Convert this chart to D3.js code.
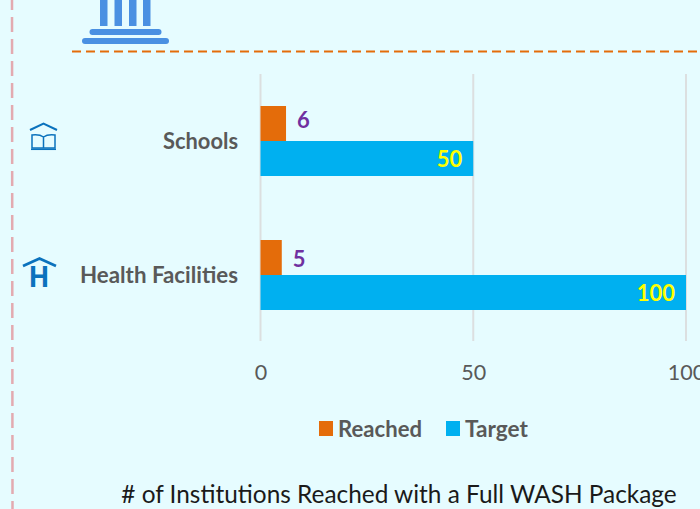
<!DOCTYPE html>
<html><head><meta charset="utf-8">
<script src="https://cdn.jsdelivr.net/npm/d3@7/dist/d3.min.js"></script>
<style>
html,body{margin:0;padding:0;background:#e6fcff;overflow:hidden}
text{font-family:Lato,"Open Sans",sans-serif}
</style></head><body><svg id="c" width="700" height="509"></svg>
<script>
const categories=["Schools","Health Facilities"];
const reached=[6,5];
const target=[50,100];
const xTicks=[0,50,100];
const seriesNames=["Reached","Target"];
const colors={Reached:"#e46c0a",Target:"#00b0f0"};
const title="# of Institutions Reached with a Full WASH Package";

const svg=d3.select("#c");
svg.append("rect").attr("width",700).attr("height",509).attr("fill","#e6fcff");
svg.append("line").attr("x1",12).attr("x2",12.5).attr("y1",-5).attr("y2",509)
 .attr("stroke","#e3aab0").attr("stroke-width",2.5).attr("stroke-dasharray","15 7");
svg.append("line").attr("x1",72).attr("x2",700).attr("y1",51.5).attr("y2",51.5)
 .attr("stroke","#e46c0a").attr("stroke-width",2).attr("stroke-dasharray","9 5");

// institution icon
const blue="#4a90e2";
const ic=svg.append("g").attr("fill",blue);
[100,114.5,129,143].forEach(x=>ic.append("rect").attr("x",x).attr("y",-2).attr("width",7.5).attr("height",28));
ic.append("rect").attr("x",89.5).attr("y",29).attr("width",72).attr("height",6).attr("rx",3);
ic.append("rect").attr("x",82).attr("y",38).attr("width",87).attr("height",6).attr("rx",3);

// book icon
const ib="#0b72bd";
const bk=svg.append("g").attr("fill","none").attr("stroke",ib);
bk.append("path").attr("d","M30 130 L43.5 123.5 L57 130").attr("stroke-width",2);
bk.append("path").attr("d","M43.5 137 C40 134.5 36 134.5 32 135 V148 H43.5 V137 C47 134.5 51 134.5 55 135 V148 H43.5").attr("stroke-width",1.5);
bk.append("path").attr("d","M31 149.3 H56").attr("stroke-width",1.5);

// H icon
const h=svg.append("g");
h.append("path").attr("d","M23 266 L39.5 258.5 L56 266").attr("fill","none").attr("stroke",ib).attr("stroke-width",2.8);
h.append("text").attr("x",39).attr("y",287).attr("text-anchor","middle").attr("font-size",28).attr("font-weight",700).attr("fill",ib).attr("textLength",21).attr("lengthAdjust","spacingAndGlyphs").style("font-family","'Open Sans',sans-serif").text("H");

const x=d3.scaleLinear().domain([0,100]).range([260.5,686]);
const y=d3.scaleBand().domain(categories).range([74,342]);
const barH=35;
const reachedLabelDrop=[-13,-8];

const ax=svg.append("g").attr("transform","translate(0,341)");
xTicks.forEach(t=>svg.append("line").attr("x1",x(t)).attr("x2",x(t)).attr("y1",74).attr("y2",341).attr("stroke","#dcdfe0").attr("stroke-width",2));
ax.call(d3.axisBottom(x).tickValues(xTicks).tickSize(0).tickFormat(d=>d));
ax.select(".domain").remove();
ax.selectAll("text").attr("y",39).attr("dy",0).attr("font-size",21.5).attr("fill","#595959").style("font-family","Lato,sans-serif");

const rows=svg.append("g");
categories.forEach((c,i)=>{
 const mid=y(c)+y.bandwidth()/2;
 rows.append("rect").attr("x",x(0)).attr("y",mid-barH).attr("width",x(reached[i])-x(0)).attr("height",barH).attr("fill",colors.Reached);
 rows.append("rect").attr("x",x(0)).attr("y",mid).attr("width",x(target[i])-x(0)).attr("height",barH).attr("fill",colors.Target);
 rows.append("text").attr("x",x(reached[i])+11).attr("y",mid+reachedLabelDrop[i]).attr("font-size",22).attr("font-weight",700).attr("fill","#7030a0").text(reached[i]);
 rows.append("text").attr("x",x(target[i])-11).attr("y",mid+26).attr("text-anchor","end").attr("font-size",22).attr("font-weight",700).attr("fill","#ffff00").text(target[i]);
 rows.append("text").attr("x",238).attr("y",mid+8).attr("text-anchor","end").attr("font-size",22).attr("font-weight",700).attr("fill","#595959").attr("textLength",i?158:75).attr("lengthAdjust","spacingAndGlyphs").text(c);
});

const legend=svg.append("g");
const lx=[319,446], tx=[338,465], lw=[84,63];
seriesNames.forEach((s,i)=>{
 legend.append("rect").attr("x",lx[i]).attr("y",421).attr("width",14).attr("height",15).attr("fill",colors[s]);
 legend.append("text").attr("x",tx[i]).attr("y",437).attr("font-size",22).attr("font-weight",700).attr("fill","#595959").attr("textLength",lw[i]).attr("lengthAdjust","spacingAndGlyphs").text(s);
});
svg.append("text").attr("x",399).attr("y",503).attr("text-anchor","middle").attr("font-size",24.4).attr("fill","#1a1a1a").text(title);
</script></body></html>
